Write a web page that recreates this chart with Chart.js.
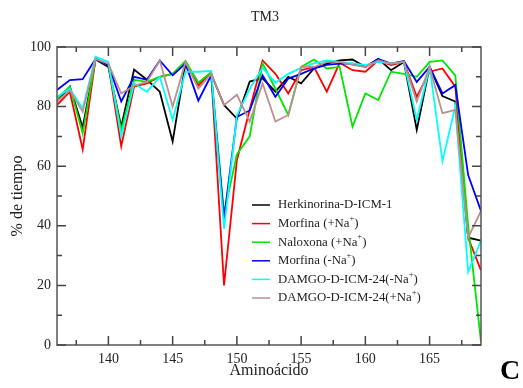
<!DOCTYPE html>
<html>
<head>
<meta charset="utf-8">
<script src="https://cdn.jsdelivr.net/npm/chart.js@4.4.0/dist/chart.umd.min.js"></script>
<style>
  html, body { margin: 0; padding: 0; background: #fff; }
  #wrap { width: 523px; height: 388px; position: relative; }
</style>
</head>
<body>
<div id="wrap"><canvas id="tm3"></canvas></div>
<script>
const residues = [136, 137, 138, 139, 140, 141, 142, 143, 144, 145, 146, 147, 148, 149, 150, 151, 152,
  153, 154, 155, 156, 157, 158, 159, 160, 161, 162, 163, 164, 165, 166, 167, 168, 169];

const herkinorina = [81.7, 86.7, 73, 95.8, 93.3, 73.3, 92.4, 89, 85, 68.3, 94.4, 88, 91, 80.5, 76, 88.4, 89.5,
  85, 90, 87.8, 92.8, 94.4, 95.5, 95.8, 93.3, 96, 92.2, 95, 72.2, 93.3, 83.5, 81.7, 36, 35];
const morfinaNa = [80.5, 85, 65.6, 96, 94, 66.7, 86.7, 87.8, 90, 91, 95, 87, 91.5, 20, 62, 79, 95.5,
  91, 84.4, 92.2, 93.3, 85, 94.7, 92.2, 91.7, 95.5, 93.9, 95, 83.3, 91.7, 92.8, 86.7, 36, 25];
const naloxonaNa = [82.8, 86.7, 71, 96, 94, 72, 89, 88.3, 90, 91, 95.3, 88, 91.5, 44, 64, 70, 94.5,
  86, 77.2, 93.3, 95.8, 92.8, 93.3, 73.3, 84.4, 82.2, 91.7, 91, 90, 95, 95.5, 90.5, 40, 1];
const morfinaSinNa = [85.6, 88.9, 89.2, 96, 94, 81.7, 90, 89, 95.5, 90.5, 94.4, 82, 90.5, 42.6, 76.5, 78.7, 90.5,
  83.3, 89.4, 91, 92.8, 94, 94.4, 94.4, 93.3, 96, 94.4, 95.3, 88.3, 93.3, 84.4, 87.2, 57, 45];
const damgoSinNa = [83.3, 86, 79.4, 96.7, 95, 70, 87.8, 85, 90, 75.5, 91.7, 91.7, 92, 39, 77, 86, 93,
  88, 91, 93, 94.5, 95.5, 95, 94.5, 93.9, 95, 94.4, 95, 75.5, 93.3, 61.7, 80, 24.5, 35];
const damgoNa = [81.7, 85.5, 78.3, 96, 94.4, 84.4, 87, 88.3, 95.5, 80, 95, 86, 91, 80.5, 84, 75, 87.8,
  75, 77.2, 93.3, 93.3, 95, 95, 94, 93.3, 95.5, 94.4, 95, 81.7, 93.3, 77.8, 78.9, 36, 45];

const seriesLabels = ['Herkinorina-D-ICM-1', 'Morfina (+Na⁺)', 'Naloxona (+Na⁺)', 'Morfina (-Na⁺)',
  'DAMGO-D-ICM-24(-Na⁺)', 'DAMGO-D-ICM-24(+Na⁺)'];
const seriesColors = ['#000000', '#ff0000', '#00e600', '#0000ff', '#00ffff', '#bc8f8f'];
const seriesValues = [herkinorina, morfinaNa, naloxonaNa, morfinaSinNa, damgoSinNa, damgoNa];

const xTicks = [140, 145, 150, 155, 160, 165];
const xMinorTicks = [137.5, 142.5, 147.5, 152.5, 157.5, 162.5, 167.5];
const yTicks = [0, 20, 40, 60, 80, 100];
const yMinorTicks = [10, 30, 50, 70, 90];

const SERIF = '"Liberation Serif", "DejaVu Serif", "Times New Roman", serif';
const TEXT = '#222';

// frame, inward ticks, titles and legend
const decorations = {
  id: 'decorations',
  afterDraw(chart) {
    const { ctx, chartArea: a, scales } = chart;
    const xs = scales.x, ys = scales.y;
    ctx.save();
    ctx.strokeStyle = '#555';
    ctx.lineWidth = 1.5;
    ctx.strokeRect(a.left, a.top, a.right - a.left, a.bottom - a.top);

    ctx.strokeStyle = '#444';
    ctx.beginPath();
    const xTick = (v, len) => {
      const px = xs.getPixelForValue(v);
      ctx.moveTo(px, a.bottom); ctx.lineTo(px, a.bottom - len);
      ctx.moveTo(px, a.top); ctx.lineTo(px, a.top + len);
    };
    const yTick = (v, len) => {
      const py = ys.getPixelForValue(v);
      ctx.moveTo(a.left, py); ctx.lineTo(a.left + len, py);
      ctx.moveTo(a.right, py); ctx.lineTo(a.right - len, py);
    };
    xTicks.forEach(v => xTick(v, 9));
    xMinorTicks.forEach(v => xTick(v, 5));
    yTicks.forEach(v => yTick(v, 9));
    yMinorTicks.forEach(v => yTick(v, 5));
    ctx.stroke();

    ctx.fillStyle = TEXT;
    ctx.textAlign = 'center';
    ctx.textBaseline = 'middle';
    ctx.font = '14px ' + SERIF;
    ctx.fillText('TM3', 265, 17);

    ctx.font = '16px ' + SERIF;
    ctx.fillText('Aminoácido', (a.left + a.right) / 2, 371);

    ctx.save();
    ctx.translate(18, (a.top + a.bottom) / 2);
    ctx.rotate(-Math.PI / 2);
    ctx.fillText('% de tiempo', 0, 0);
    ctx.restore();

    ctx.font = 'bold 28px ' + SERIF;
    ctx.fillStyle = '#000';
    ctx.fillText('C', 510, 372);

    // legend
    const lx = 252, tx = 278, top = 205, step = 18.6;
    chart.data.datasets.forEach((ds, i) => {
      const y = top + i * step;
      ctx.strokeStyle = ds.borderColor;
      ctx.lineWidth = 1.5;
      ctx.beginPath();
      ctx.moveTo(lx, y); ctx.lineTo(lx + 18, y);
      ctx.stroke();
      ctx.fillStyle = TEXT;
      ctx.textAlign = 'left';
      ctx.textBaseline = 'middle';
      let x = tx;
      ds.label.split(/(⁺)/).forEach(part => {
        if (!part) return;
        if (part === '⁺') {
          ctx.font = '8.5px ' + SERIF;
          ctx.fillText('+', x, y - 5);
          x += ctx.measureText('+').width;
        } else {
          ctx.font = '12.8px ' + SERIF;
          ctx.fillText(part, x, y);
          x += ctx.measureText(part).width;
        }
      });
    });
    ctx.restore();
  }
};

const ctx = document.getElementById('tm3').getContext('2d');
const tm3Chart = new Chart(ctx, {
  type: 'line',
  data: {
    datasets: seriesValues.map((vals, i) => ({
      label: seriesLabels[i],
      data: residues.map((r, j) => ({ x: r, y: vals[j] })),
      borderColor: seriesColors[i],
      backgroundColor: seriesColors[i],
      borderWidth: 1.8,
      pointRadius: 0,
      tension: 0,
      order: seriesValues.length - i
    }))
  },
  options: {
    responsive: true,
    maintainAspectRatio: false,
    animation: false,
    layout: { padding: { top: 47, right: 42, left: 0, bottom: 0 } },
    scales: {
      x: {
        type: 'linear',
        min: 136,
        max: 169,
        afterBuildTicks: s => { s.ticks = xTicks.map(v => ({ value: v })); },
        afterFit: s => { s.height = 43; },
        grid: { display: false, drawTicks: false },
        border: { display: false },
        ticks: { color: TEXT, font: { family: SERIF, size: 14 }, padding: 6, maxRotation: 0 }
      },
      y: {
        min: 0,
        max: 100,
        afterBuildTicks: s => { s.ticks = yTicks.map(v => ({ value: v })); },
        afterFit: s => { s.width = 57; },
        grid: { display: false, drawTicks: false },
        border: { display: false },
        ticks: { color: TEXT, font: { family: SERIF, size: 14 }, padding: 6 }
      }
    },
    plugins: {
      legend: { display: false },
      tooltip: { enabled: false },
      title: { display: false }
    }
  },
  plugins: [decorations]
});
</script>
</body>
</html>
